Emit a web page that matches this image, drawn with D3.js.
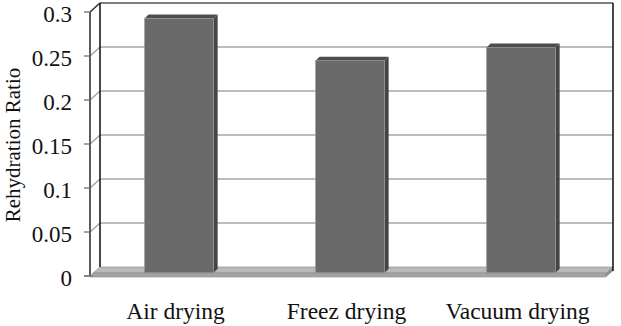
<!DOCTYPE html>
<html>
<head>
<meta charset="utf-8">
<script src="https://cdn.jsdelivr.net/npm/d3@7"></script>
<style>
  html, body { margin: 0; padding: 0; background: #fff; }
  svg { display: block; }
</style>
</head>
<body>
<svg id="chart" width="621" height="326"></svg>
<script>
// ---- data ----
const categories = ["Air drying", "Freez drying", "Vacuum drying"];
const values = [0.289, 0.241, 0.256];
const yTicks = [0, 0.05, 0.1, 0.15, 0.2, 0.25, 0.3];
const yTickLabels = ["0", "0.05", "0.1", "0.15", "0.2", "0.25", "0.3"];
const yTitle = "Rehydration Ratio";

// ---- layout ----
const FONT = "'Liberation Serif', 'DejaVu Serif', 'Times New Roman', Times, serif";
const svg = d3.select("#chart");

// front plane scales
const y = d3.scaleLinear().domain([0, 0.3]).range([276, 12]);
const x = d3.scaleBand().domain(categories).range([90, 603]).paddingInner(0.596).paddingOuter(0.298);
const xc = d3.scaleBand().domain(categories).range([90, 603]);

// depth: full depth offset (front -> back wall)
const DX = 10, DY = -9;
const barT = 0.36;           // depth position of bar front face
const barDepth = 4;          // bar side/top depth in px

const gridColor = "#a6a6a6";
const edgeColor = "#1a1a1a";

// back wall
svg.append("rect")
  .attr("x", 90 + DX).attr("y", y(0.3) + DY)
  .attr("width", 603 - 90).attr("height", y(0) - y(0.3))
  .attr("fill", "#ffffff");

// gridlines on back wall and side wall
yTicks.forEach(t => {
  if (t === 0) return;
  svg.append("line")
    .attr("x1", 90 + DX).attr("x2", 603 + DX)
    .attr("y1", y(t) + DY).attr("y2", y(t) + DY)
    .attr("stroke", t === 0.3 ? "#555" : gridColor).attr("stroke-width", 1.6);
  svg.append("line")
    .attr("x1", 90).attr("x2", 90 + DX)
    .attr("y1", y(t)).attr("y2", y(t) + DY)
    .attr("stroke", t === 0.3 ? "#333" : gridColor).attr("stroke-width", 1.6);
});

// floor (top surface + front thickness)
const fy0 = y(0);
svg.append("polygon")
  .attr("points", [[90 + 3, fy0 - 3], [90 + DX, fy0 + DY], [603 + DX, fy0 + DY], [603 + 3, fy0 - 3]].map(p => p.join(",")).join(" "))
  .attr("fill", "#b9b9b9").attr("stroke", "#9a9a9a").attr("stroke-width", 0.8);
svg.append("polygon")
  .attr("points", [[90 + 3, fy0 - 3], [603 + 3, fy0 - 3], [603 + 3, fy0 + 1], [90, fy0 + 1]].map(p => p.join(",")).join(" "))
  .attr("fill", "#a3a3a3").attr("stroke", "#8a8a8a").attr("stroke-width", 0.6);
svg.append("polygon")
  .attr("points", [[603 + 3, fy0 - 3], [603 + DX, fy0 + DY], [603 + DX, fy0 + DY + 4], [603 + 3, fy0 + 1]].map(p => p.join(",")).join(" "))
  .attr("fill", "#8f8f8f");

// frame edges
svg.append("line").attr("x1", 90 + DX).attr("x2", 90 + DX).attr("y1", y(0.3) + DY).attr("y2", y(0) + DY)
  .attr("stroke", edgeColor).attr("stroke-width", 1.6);
svg.append("line").attr("x1", 603 + DX).attr("x2", 603 + DX).attr("y1", y(0.3) + DY).attr("y2", y(0) + DY + 4)
  .attr("stroke", edgeColor).attr("stroke-width", 1.6);
svg.append("line").attr("x1", 90).attr("x2", 90).attr("y1", y(0.3)).attr("y2", y(0))
  .attr("stroke", "#333").attr("stroke-width", 1.6);

// front axis ticks
yTicks.forEach(t => {
  svg.append("line")
    .attr("x1", 84).attr("x2", 90)
    .attr("y1", y(t)).attr("y2", y(t))
    .attr("stroke", "#777").attr("stroke-width", 1.4);
});
svg.append("line").attr("x1", 84).attr("x2", 93).attr("y1", y(0)).attr("y2", y(0))
  .attr("stroke", "#777").attr("stroke-width", 1.4);

// bars
const bdx = DX * barT, bdy = DY * barT;
const bars = svg.append("g");
categories.forEach((c, i) => {
  const x0 = x(c) + bdx, w = x.bandwidth();
  const yt = y(values[i]) + bdy, yb = y(0) + bdy;
  bars.append("polygon")
    .attr("points", [[x0 + w, yt], [x0 + w + barDepth, yt - barDepth], [x0 + w + barDepth, yb - barDepth], [x0 + w, yb]].map(p => p.join(",")).join(" "))
    .attr("fill", "#454545");
  bars.append("polygon")
    .attr("points", [[x0, yt], [x0 + barDepth, yt - barDepth], [x0 + w + barDepth, yt - barDepth], [x0 + w, yt]].map(p => p.join(",")).join(" "))
    .attr("fill", "#4d4d4d");
  bars.append("rect")
    .attr("x", x0).attr("y", yt).attr("width", w).attr("height", yb - yt)
    .attr("fill", "#6a6a6a").attr("stroke", "#9a9a9a").attr("stroke-width", 0.6);
});

// tick labels
svg.append("g").selectAll("text").data(yTicks).join("text")
  .attr("x", 72).attr("y", d => y(d) + 2)
  .attr("dy", "0.35em")
  .attr("text-anchor", "end")
  .attr("font-family", FONT)
  .attr("font-size", 23)
  .attr("fill", "#111")
  .text((d, i) => yTickLabels[i]);

// category labels
svg.append("g").selectAll("text").data(categories).join("text")
  .attr("x", d => xc(d) + xc.bandwidth() / 2)
  .attr("y", 319)
  .attr("text-anchor", "middle")
  .attr("font-family", FONT)
  .attr("font-size", 23.5)
  .attr("fill", "#111")
  .text(d => d);

// y title
svg.append("text")
  .attr("transform", "translate(19.5,145) rotate(-90)")
  .attr("text-anchor", "middle")
  .attr("font-family", FONT)
  .attr("font-size", 21)
  .attr("fill", "#111")
  .text(yTitle);
</script>
</body>
</html>
